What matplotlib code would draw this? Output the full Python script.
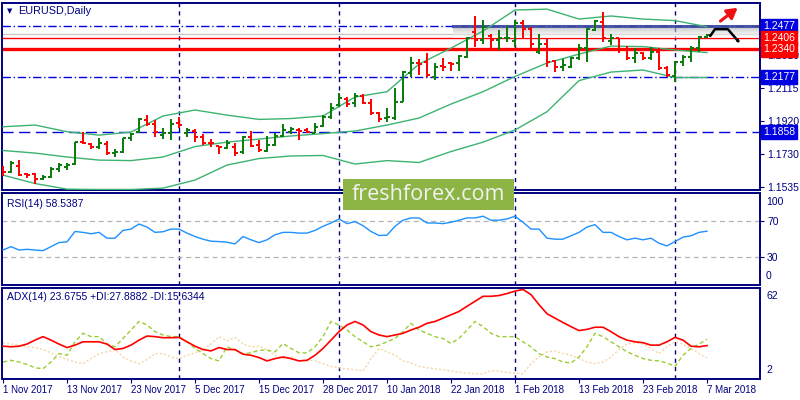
import numpy as np
import matplotlib
matplotlib.use("Agg")
import matplotlib.pyplot as plt
from matplotlib.collections import LineCollection
from matplotlib.patches import Rectangle, FancyArrowPatch
from matplotlib.path import Path
import matplotlib.transforms as mtransforms

# daily EURUSD bars, 1 Nov 2017 .. 7 Mar 2018
opens = [1.1650, 1.1621, 1.1658, 1.1611, 1.1609, 1.1584, 1.1592, 1.1640, 1.1650, 1.1670,
         1.1797, 1.1787, 1.1767, 1.1787, 1.1732, 1.1742, 1.1820, 1.1859, 1.1927, 1.1902,
         1.1839, 1.1853, 1.1908, 1.1853, 1.1864, 1.1829, 1.1794, 1.1775, 1.1765, 1.1767,
         1.1742, 1.1829, 1.1781, 1.1747, 1.1781, 1.1833, 1.1859, 1.1869, 1.1869, 1.1853,
         1.1892, 1.1943, 1.2015, 1.2048, 1.2025, 1.2069, 1.2025, 1.1966, 1.1937, 1.1941,
         1.2034, 1.2200, 1.2259, 1.2265, 1.2180, 1.2245, 1.2259, 1.2259, 1.2297, 1.2440,
         1.2395, 1.2420, 1.2395, 1.2405, 1.2389, 1.2493, 1.2459, 1.2323, 1.2370, 1.2272,
         1.2239, 1.2239, 1.2288, 1.2350, 1.2454, 1.2502, 1.2389, 1.2405, 1.2337, 1.2288,
         1.2317, 1.2292, 1.2327, 1.2233, 1.2186, 1.2265, 1.2297, 1.2347, 1.2414]
highs = [1.1658, 1.1689, 1.1693, 1.1619, 1.1615, 1.1605, 1.1650, 1.1674, 1.1677, 1.1800,
         1.1859, 1.1794, 1.1820, 1.1806, 1.1756, 1.1824, 1.1853, 1.1937, 1.1956, 1.1927,
         1.1878, 1.1931, 1.1946, 1.1878, 1.1873, 1.1845, 1.1814, 1.1775, 1.1810, 1.1791,
         1.1833, 1.1864, 1.1810, 1.1833, 1.1853, 1.1904, 1.1888, 1.1878, 1.1878, 1.1911,
         1.1956, 1.2028, 1.2083, 1.2060, 1.2083, 1.2077, 1.2050, 1.1972, 1.1996, 1.2116,
         1.2214, 1.2297, 1.2284, 1.2317, 1.2259, 1.2292, 1.2265, 1.2307, 1.2414, 1.2536,
         1.2512, 1.2428, 1.2454, 1.2479, 1.2512, 1.2512, 1.2471, 1.2428, 1.2405, 1.2278,
         1.2284, 1.2297, 1.2370, 1.2467, 1.2512, 1.2557, 1.2428, 1.2409, 1.2362, 1.2350,
         1.2327, 1.2356, 1.2347, 1.2245, 1.2272, 1.2307, 1.2362, 1.2420, 1.2428]
lows = [1.1599, 1.1615, 1.1599, 1.1586, 1.1551, 1.1576, 1.1586, 1.1625, 1.1635, 1.1664,
        1.1787, 1.1756, 1.1756, 1.1722, 1.1713, 1.1732, 1.1806, 1.1849, 1.1892, 1.1826,
        1.1814, 1.1810, 1.1880, 1.1826, 1.1800, 1.1781, 1.1767, 1.1728, 1.1756, 1.1716,
        1.1726, 1.1767, 1.1742, 1.1742, 1.1775, 1.1826, 1.1845, 1.1810, 1.1849, 1.1849,
        1.1888, 1.1931, 1.2005, 1.2001, 1.2005, 1.2019, 1.1956, 1.1917, 1.1914, 1.1927,
        1.2034, 1.2180, 1.2190, 1.2180, 1.2161, 1.2214, 1.2214, 1.2214, 1.2288, 1.2356,
        1.2370, 1.2337, 1.2337, 1.2382, 1.2356, 1.2409, 1.2348, 1.2311, 1.2239, 1.2206,
        1.2214, 1.2230, 1.2278, 1.2268, 1.2448, 1.2385, 1.2366, 1.2317, 1.2278, 1.2259,
        1.2278, 1.2278, 1.2220, 1.2180, 1.2151, 1.2245, 1.2268, 1.2323, 1.2409]
closes = [1.1625, 1.1677, 1.1603, 1.1605, 1.1580, 1.1592, 1.1642, 1.1662, 1.1664, 1.1797,
          1.1791, 1.1767, 1.1791, 1.1736, 1.1742, 1.1820, 1.1843, 1.1931, 1.1902, 1.1855,
          1.1853, 1.1904, 1.1898, 1.1869, 1.1829, 1.1791, 1.1791, 1.1771, 1.1791, 1.1736,
          1.1826, 1.1775, 1.1752, 1.1781, 1.1833, 1.1869, 1.1873, 1.1864, 1.1859, 1.1888,
          1.1943, 1.1996, 1.2054, 1.2021, 1.2068, 1.2025, 1.1966, 1.1933, 1.1946, 1.2031,
          1.2210, 1.2259, 1.2253, 1.2190, 1.2239, 1.2239, 1.2256, 1.2303, 1.2409, 1.2395,
          1.2473, 1.2395, 1.2405, 1.2409, 1.2493, 1.2459, 1.2370, 1.2370, 1.2265, 1.2239,
          1.2249, 1.2292, 1.2347, 1.2459, 1.2506, 1.2405, 1.2405, 1.2337, 1.2288, 1.2317,
          1.2288, 1.2327, 1.2230, 1.2190, 1.2265, 1.2297, 1.2347, 1.2414, 1.2424]

# Bollinger bands, read every 4th bar
band_idx = list(range(0, 89, 4))
bb_upper = [1.1888, 1.1898, 1.1859, 1.1839, 1.1857, 1.1951, 1.1986, 1.1956, 1.1931, 1.1936,
            1.1951, 1.2062, 1.2093, 1.2255, 1.2348, 1.2448, 1.2571, 1.2576, 1.2518, 1.2536,
            1.2518, 1.2509, 1.2473]
bb_middle = [1.1749, 1.1734, 1.1711, 1.1693, 1.1690, 1.1711, 1.1772, 1.1798, 1.1816, 1.1834,
             1.1848, 1.1863, 1.1898, 1.1939, 1.2021, 1.2093, 1.2182, 1.2261, 1.2313, 1.2360,
             1.2357, 1.2337, 1.2322]
bb_lower = [1.1605, 1.1556, 1.1523, 1.1521, 1.1521, 1.1529, 1.1576, 1.1664, 1.1702, 1.1717,
            1.1720, 1.1670, 1.1690, 1.1679, 1.1743, 1.1798, 1.1869, 1.1976, 1.2158, 1.2208,
            1.2220, 1.2176, 1.2176]

rsi = [38.0, 41.7, 38.0, 38.8, 38.0, 37.3, 41.7, 46.1, 46.9, 58.2,
       57.2, 55.7, 57.2, 50.9, 50.9, 59.3, 60.8, 66.3, 63.0, 57.2,
       57.9, 60.8, 60.8, 56.4, 52.7, 49.8, 47.6, 47.2, 46.5, 44.7,
       52.7, 49.1, 46.1, 49.1, 54.6, 57.2, 57.2, 56.4, 56.4, 59.3,
       63.8, 67.4, 71.8, 66.7, 68.9, 64.5, 58.2, 53.8, 54.2, 63.8,
       70.4, 72.9, 72.9, 67.4, 67.4, 66.7, 68.2, 70.4, 72.9, 72.9,
       74.8, 70.4, 70.4, 71.8, 74.8, 68.2, 60.8, 60.8, 50.9, 49.8,
       49.8, 53.5, 57.2, 63.0, 65.6, 57.2, 57.2, 52.7, 49.1, 50.9,
       49.1, 50.9, 45.4, 42.5, 47.2, 52.0, 53.5, 57.2, 58.5]

adx = [23.3, 22.9, 23.3, 24.7, 27.3, 29.6, 27.3, 24.7, 22.4, 24.0,
       26.2, 26.2, 26.2, 24.7, 21.1, 21.8, 24.0, 27.3, 30.0, 29.6,
       28.9, 28.9, 29.1, 26.2, 23.3, 21.1, 20.2, 22.4, 21.1, 21.1,
       18.0, 17.3, 15.8, 13.6, 15.1, 16.2, 15.1, 13.6, 14.0, 17.3,
       21.8, 27.3, 32.9, 37.3, 39.6, 37.3, 32.9, 30.7, 29.6, 30.7,
       31.8, 34.0, 35.8, 38.4, 39.6, 41.8, 44.0, 46.2, 49.6, 52.9,
       56.2, 56.2, 56.7, 58.0, 59.6, 60.7, 57.3, 50.7, 44.7, 41.8,
       38.9, 36.2, 33.6, 34.4, 35.8, 35.8, 32.9, 29.6, 27.3, 26.2,
       25.6, 24.0, 24.0, 26.2, 29.1, 27.3, 23.3, 22.9, 23.7]
plus_di = [12.9, 14.0, 12.9, 11.3, 9.1, 8.4, 12.9, 18.4, 17.3, 26.2,
           31.8, 29.6, 29.6, 24.7, 22.9, 28.4, 34.0, 39.6, 37.3, 32.9,
           30.7, 29.6, 29.6, 26.2, 21.8, 18.4, 15.1, 13.6, 22.9, 20.7,
           18.4, 18.9, 20.7, 20.7, 19.6, 25.1, 21.8, 18.9, 18.9, 22.9,
           29.6, 39.6, 37.3, 34.0, 29.6, 26.2, 22.9, 24.0, 26.2, 28.4,
           32.9, 38.4, 34.0, 31.8, 29.6, 28.4, 25.1, 28.4, 34.0, 39.6,
           36.2, 31.8, 29.6, 29.6, 29.6, 26.2, 22.9, 18.4, 16.2, 15.1,
           12.9, 12.2, 16.2, 22.9, 31.8, 29.6, 26.2, 22.9, 19.6, 17.3,
           15.1, 14.0, 13.6, 12.2, 10.0, 17.3, 21.8, 24.7, 27.9]
minus_di = [25.6, 24.7, 23.8, 22.9, 22.4, 21.1, 18.9, 16.7, 14.4, 12.9,
            11.8, 15.1, 18.4, 19.6, 21.1, 16.2, 13.6, 11.8, 14.4, 18.4,
            18.4, 16.2, 15.1, 17.3, 18.9, 21.1, 24.7, 29.6, 26.9, 29.1,
            24.7, 22.9, 23.3, 21.1, 17.3, 15.1, 16.2, 13.6, 14.4, 13.6,
            11.8, 10.0, 9.1, 8.4, 7.8, 6.9, 15.1, 21.8, 19.6, 17.3,
            13.6, 12.2, 10.0, 9.1, 8.4, 7.8, 6.9, 6.2, 5.5, 5.1,
            5.1, 7.3, 6.9, 6.0, 5.5, 5.1, 11.8, 16.2, 19.6, 20.2,
            18.4, 17.3, 15.1, 12.9, 11.8, 12.9, 16.2, 21.1, 24.7, 25.6,
            24.7, 21.8, 18.4, 22.9, 26.2, 24.7, 21.8, 18.4, 15.6]

date_ticks = [0, 8, 16, 24, 32, 40, 48, 56, 64, 72, 80, 88]
date_labels = ["1 Nov 2017", "13 Nov 2017", "23 Nov 2017", "5 Dec 2017", "15 Dec 2017",
               "28 Dec 2017", "10 Jan 2018", "22 Jan 2018", "1 Feb 2018", "13 Feb 2018",
               "23 Feb 2018", "7 Mar 2018"]
month_starts = [22, 42, 64, 84]

blue_levels = [1.2477, 1.2177]
red_levels = [1.2406, 1.2340]
support_level = 1.1858
ask_line = 1.2432
price_ticks = [1.2310, 1.2115, 1.1920, 1.1730, 1.1535]

NAVY = "#000080"
UP = "#0a7a0a"
DOWN = "#ff0000"
BLUE = "#0000e0"
plt.rcParams['font.family'] = ['Liberation Sans', 'DejaVu Sans']

fig = plt.figure(figsize=(8, 4), dpi=100)
fig.patch.set_facecolor("white")
L, W = 0.0025, 0.9475
ax = fig.add_axes([L, 0.525, W, 0.4675])
ax_rsi = fig.add_axes([L, 0.2875, W, 0.23])
ax_adx = fig.add_axes([L, 0.05375, W, 0.2275])

xmin, xmax = -0.125, 94.625
for a in (ax, ax_rsi, ax_adx):
    a.set_xlim(xmin, xmax)
    for s in a.spines.values():
        s.set_color(NAVY)
        s.set_linewidth(1.4)
    a.set_xticks([])
    a.yaxis.tick_right()
    a.tick_params(axis="y", colors=NAVY, labelsize=7.5, length=3, width=0.8, pad=2)
    for m in month_starts:
        a.axvline(m, color=NAVY, lw=1.0, ls=(0, (3, 3)), zorder=1)

# ---- main price panel
n = len(closes)
segs, cols = [], []
for i in range(n):
    c = UP if closes[i] >= opens[i] else DOWN
    segs += [[(i, lows[i]), (i, highs[i])],
             [(i - 0.4, opens[i]), (i, opens[i])],
             [(i, closes[i]), (i + 0.4, closes[i])]]
    cols += [c, c, c]
ax.add_collection(LineCollection(segs, colors=cols, linewidths=1.4, zorder=4))

for band in (bb_upper, bb_middle, bb_lower):
    ax.plot(band_idx, band, color="#3cb371", lw=1.0, zorder=3)

for lv in blue_levels:
    ax.axhline(lv, color=BLUE, lw=1.0, ls=(0, (6, 2, 1, 2)), zorder=2)
ax.axhline(support_level, color=BLUE, lw=1.0, ls=(0, (8, 4)), zorder=2)
ax.axhline(ask_line, color="#c8c8c8", lw=1.0, zorder=2)
ax.axhline(red_levels[0], color=DOWN, lw=1.0, zorder=2)
ax.axhline(red_levels[1], color=DOWN, lw=2.4, zorder=2)

# resistance zone drawn on the right part of the chart
grad = np.linspace(0.55, 0.0, 50).reshape(-1, 1)
ax.imshow(grad, extent=(56.3, xmax, red_levels[0] + 0.0004, blue_levels[0] + 0.0006),
          cmap="Greys", vmin=0, vmax=1, alpha=0.6, aspect="auto", zorder=2.2)
ax.plot([56.3, xmax], [blue_levels[0]] * 2, color="#3040a0", lw=2.2, alpha=0.8, zorder=2.3)

ax.set_yticks(price_ticks)
ax.set_yticklabels(["%.4f" % p for p in price_ticks])
ax.set_ylim(1.1518, 1.2612)

tr = mtransforms.blended_transform_factory(ax.transAxes, ax.transData)
for lv, bg in [(blue_levels[0], BLUE), (red_levels[0], DOWN), (red_levels[1], DOWN),
               (blue_levels[1], BLUE), (support_level, BLUE)]:
    ax.text(1.004, lv, "%.4f" % lv, transform=tr, color="white", fontsize=7.5,
            va="center", ha="left", clip_on=False, zorder=10,
            bbox=dict(boxstyle="square,pad=0.2", fc=bg, ec=bg))

ax.text(0.007, 0.955, "\u25bc", transform=ax.transAxes, color=NAVY, fontsize=5,
        va="center", ha="left", family="DejaVu Sans")
ax.text(0.021, 0.955, "EURUSD,Daily", transform=ax.transAxes, color=NAVY, fontsize=7.8,
        va="center", ha="left")

# forecast arrows
ax.annotate("", xy=(92.1, 1.2594), xytext=(89.4, 1.2496),
            arrowprops=dict(arrowstyle="-|>,head_width=0.35,head_length=0.6",
                            color="#ee1111", lw=2.2), zorder=11)
verts = [(88.4, 1.2419), (89.0, 1.2459), (90.6, 1.2459), (92.1, 1.2378)]
p = Path(verts, [Path.MOVETO, Path.LINETO, Path.LINETO, Path.LINETO])
ax.add_patch(FancyArrowPatch(path=p, arrowstyle="-|>,head_width=0.3,head_length=0.5",
                             color="black", lw=1.8, zorder=11))

# ---- RSI panel
ax_rsi.set_ylim(0, 100)
ax_rsi.plot(range(n), rsi, color="#1e90ff", lw=1.0, zorder=3)
for lv in (70, 30):
    ax_rsi.axhline(lv, color="#b4b4b4", lw=0.9, ls=(0, (4, 3)), zorder=2)
ax_rsi.set_yticks([70, 30])
ax_rsi.set_yticklabels(["70", "30"])
ax_rsi.text(1.008, 0.96, "100", transform=ax_rsi.transAxes, color=NAVY, fontsize=7.5,
            va="top", ha="left")
ax_rsi.text(1.008, 0.04, "0", transform=ax_rsi.transAxes, color=NAVY, fontsize=7.5,
            va="bottom", ha="left")
ax_rsi.text(0.007, 0.88, "RSI(14) %.4f" % 58.5387, transform=ax_rsi.transAxes,
            color=NAVY, fontsize=7.5, va="center", ha="left")

# ---- ADX panel
ax_adx.set_ylim(2, 62)
ax_adx.plot(range(n), minus_di, color="#f5d6a8", lw=1.0, ls=(0, (1.5, 1.5)), zorder=3)
ax_adx.plot(range(n), plus_di, color="#9acd32", lw=1.0, ls=(0, (3, 2)), zorder=3)
ax_adx.plot(range(n), adx, color="#ff0000", lw=1.2, zorder=4)
ax_adx.set_yticks([])
ax_adx.text(1.008, 0.96, "62", transform=ax_adx.transAxes, color=NAVY, fontsize=7.5,
            va="top", ha="left")
ax_adx.text(1.008, 0.04, "2", transform=ax_adx.transAxes, color=NAVY, fontsize=7.5,
            va="bottom", ha="left")
ax_adx.text(0.007, 0.90, "ADX(14) 23.6755 +DI:27.8882 -DI:15.6344",
            transform=ax_adx.transAxes, color=NAVY, fontsize=7.5, va="center", ha="left")

ax_adx.set_xticks(date_ticks)
ax_adx.set_xticklabels(date_labels, ha="left")
ax_adx.tick_params(axis="x", colors=NAVY, labelsize=7, length=3, width=0.8, pad=1.5)

# watermark
fig.patches.append(Rectangle((0.4284, 0.475), 0.2141, 0.077, transform=fig.transFigure,
                             facecolor="#8db545", edgecolor="none", zorder=20))
fig.text(0.535, 0.5135, "freshforex.com", color="#f2f2f2", fontsize=15.5,
         family="Open Sans", ha="center", va="center", zorder=21)

fig.savefig("out.png", dpi=100, facecolor="white")
